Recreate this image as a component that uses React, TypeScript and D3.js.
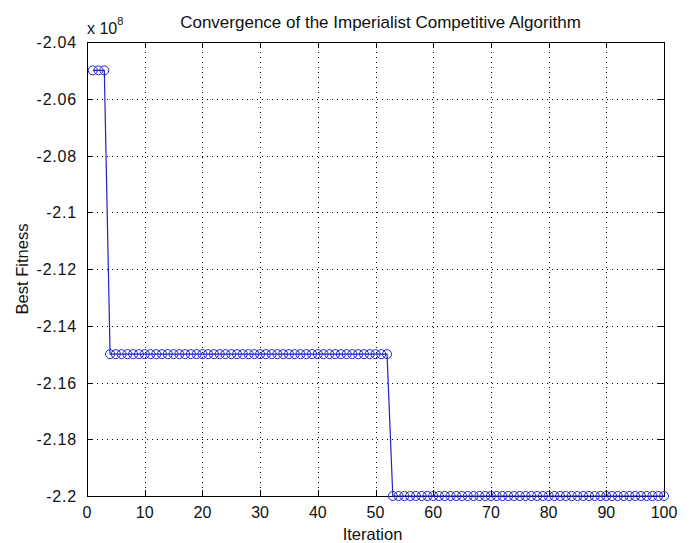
import React, { useEffect, useRef } from 'react';
import * as d3 from 'd3';

// best fitness per iteration, in units of 1e8
const iterations: number[] = d3.range(1, 101);
const bestFitness: number[] = [
  -2.05, -2.05, -2.05, -2.15, -2.15, -2.15, -2.15, -2.15, -2.15, -2.15,
  -2.15, -2.15, -2.15, -2.15, -2.15, -2.15, -2.15, -2.15, -2.15, -2.15,
  -2.15, -2.15, -2.15, -2.15, -2.15, -2.15, -2.15, -2.15, -2.15, -2.15,
  -2.15, -2.15, -2.15, -2.15, -2.15, -2.15, -2.15, -2.15, -2.15, -2.15,
  -2.15, -2.15, -2.15, -2.15, -2.15, -2.15, -2.15, -2.15, -2.15, -2.15,
  -2.15, -2.15, -2.2, -2.2, -2.2, -2.2, -2.2, -2.2, -2.2, -2.2,
  -2.2, -2.2, -2.2, -2.2, -2.2, -2.2, -2.2, -2.2, -2.2, -2.2,
  -2.2, -2.2, -2.2, -2.2, -2.2, -2.2, -2.2, -2.2, -2.2, -2.2,
  -2.2, -2.2, -2.2, -2.2, -2.2, -2.2, -2.2, -2.2, -2.2, -2.2,
  -2.2, -2.2, -2.2, -2.2, -2.2, -2.2, -2.2, -2.2, -2.2, -2.2,
];
const xTicks: number[] = [0, 10, 20, 30, 40, 50, 60, 70, 80, 90, 100];
const yTicks: number[] = [-2.04, -2.06, -2.08, -2.1, -2.12, -2.14, -2.16, -2.18, -2.2];
const yTickLabels: string[] = ['-2.04', '-2.06', '-2.08', '-2.1', '-2.12', '-2.14', '-2.16', '-2.18', '-2.2'];

const title = 'Convergence of the Imperialist Competitive Algorithm';

const ConvergenceChart: React.FC = () => {
  const svgRef = useRef<SVGSVGElement>(null);

  useEffect(() => {
    if (!svgRef.current) return;
    const svg = d3.select(svgRef.current);
    svg.selectAll('*').remove();

    const width = 692;
    const height = 543;
    const left = 87, right = 664, top = 42, bottom = 496;
    const font = 'Liberation Sans, Arial, sans-serif';
    const blue = '#2222c8';

    svg.append('rect').attr('width', width).attr('height', height).attr('fill', '#fff');

    const x = d3.scaleLinear().domain([0, 100]).range([left, right]);
    const y = d3.scaleLinear().domain([-2.2, -2.04]).range([bottom, top]);

    // grid
    const grid = svg.append('g').attr('stroke', '#000').attr('stroke-width', 1)
      .attr('stroke-dasharray', '1,4');
    xTicks.slice(1, -1).forEach(t => {
      grid.append('line').attr('x1', Math.round(x(t)) + 0.5).attr('x2', Math.round(x(t)) + 0.5)
        .attr('y1', top).attr('y2', bottom);
    });
    yTicks.slice(1, -1).forEach(t => {
      grid.append('line').attr('y1', Math.round(y(t)) + 0.5).attr('y2', Math.round(y(t)) + 0.5)
        .attr('x1', left).attr('x2', right);
    });

    // ticks (inward, all four sides)
    const tk = svg.append('g').attr('stroke', '#000').attr('stroke-width', 1);
    xTicks.forEach(t => {
      const px = Math.round(x(t)) + 0.5;
      tk.append('line').attr('x1', px).attr('x2', px).attr('y1', bottom).attr('y2', bottom - 6);
      tk.append('line').attr('x1', px).attr('x2', px).attr('y1', top).attr('y2', top + 6);
    });
    yTicks.forEach(t => {
      const py = Math.round(y(t)) + 0.5;
      tk.append('line').attr('x1', left).attr('x2', left + 6).attr('y1', py).attr('y2', py);
      tk.append('line').attr('x1', right).attr('x2', right - 6).attr('y1', py).attr('y2', py);
    });

    // box
    svg.append('rect').attr('x', left + 0.5).attr('y', top + 0.5)
      .attr('width', right - left).attr('height', bottom - top)
      .attr('fill', 'none').attr('stroke', '#000').attr('stroke-width', 1);

    // tick labels
    svg.append('g').selectAll('text').data(xTicks).join('text')
      .attr('x', d => x(d)).attr('y', bottom + 22)
      .attr('text-anchor', 'middle').attr('font-family', font).attr('font-size', 16)
      .attr('fill', '#111').text(d => String(d));
    svg.append('g').selectAll('text').data(yTicks).join('text')
      .attr('x', left - 10).attr('y', d => y(d) + 6)
      .attr('text-anchor', 'end').attr('font-family', font).attr('font-size', 16)
      .attr('letter-spacing', 0.8)
      .attr('fill', '#111').text((d, i) => yTickLabels[i]);

    // exponent
    const ex = svg.append('text').attr('x', left).attr('y', top - 8)
      .attr('font-family', font).attr('font-size', 16).attr('fill', '#111');
    ex.append('tspan').text('x 10');
    ex.append('tspan').attr('dy', -9).attr('font-size', 11).text('8');

    // line + markers
    const pts = iterations.map((it, i) => [it, bestFitness[i]] as [number, number]);
    const line = d3.line<[number, number]>().x(d => x(d[0])).y(d => y(d[1]));
    svg.append('path').datum(pts).attr('d', line).attr('fill', 'none')
      .attr('stroke', blue).attr('stroke-width', 1.2);
    svg.append('g').selectAll('circle').data(pts).join('circle')
      .attr('cx', d => x(d[0])).attr('cy', d => y(d[1])).attr('r', 4.5)
      .attr('fill', 'none').attr('stroke', blue).attr('stroke-width', 1);

    // labels
    svg.append('text').attr('x', (left + right) / 2 + 5).attr('y', 28)
      .attr('text-anchor', 'middle').attr('font-family', font).attr('font-size', 17)
      .attr('fill', '#111').text(title);
    svg.append('text').attr('x', (left + right) / 2 - 3).attr('y', 540)
      .attr('text-anchor', 'middle').attr('font-family', font).attr('font-size', 16.5)
      .attr('fill', '#111').text('Iteration');
    svg.append('text')
      .attr('transform', `translate(28,${(top + bottom) / 2}) rotate(-90)`)
      .attr('text-anchor', 'middle').attr('font-family', font).attr('font-size', 16.5)
      .attr('fill', '#111').text('Best Fitness');
  }, []);

  return <svg ref={svgRef} width={692} height={543} style={{ position: 'absolute', left: 0, top: 0 }} />;
};

export default function App() {
  return <ConvergenceChart />;
}
